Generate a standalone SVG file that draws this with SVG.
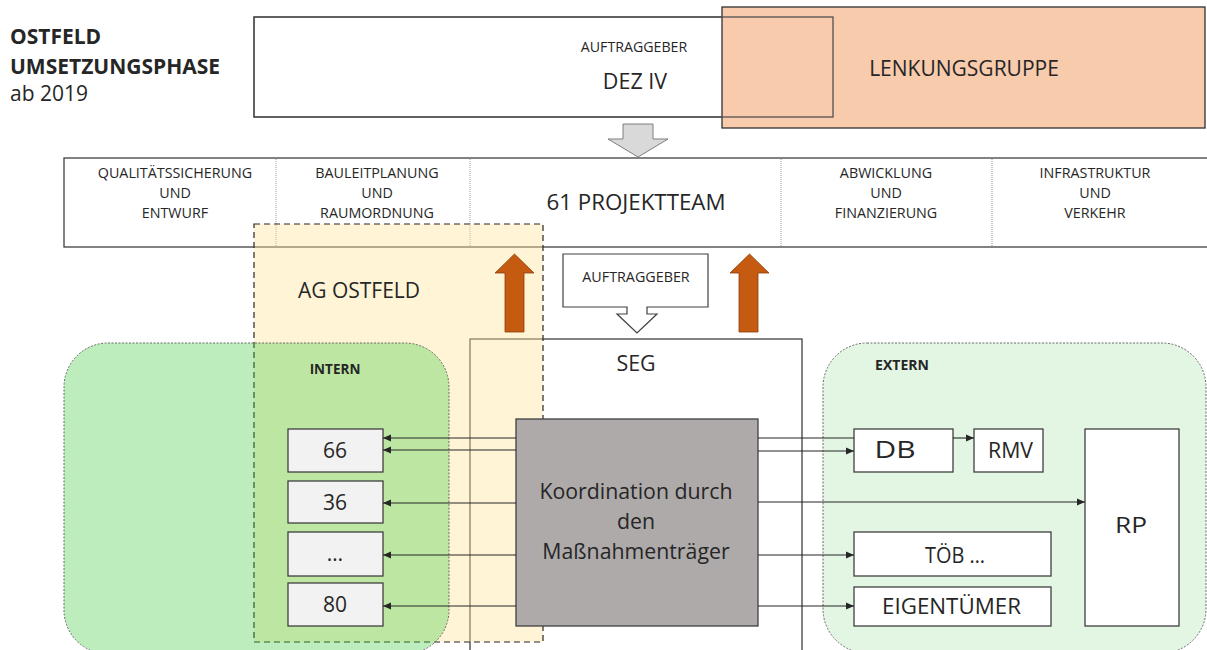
<svg xmlns="http://www.w3.org/2000/svg" width="1207" height="650" viewBox="0 0 1207 650">
<defs>
<style>
text{font-family:"Open Sans","Noto Sans","Liberation Sans",sans-serif;fill:#262626;}
.c{text-anchor:middle;}
.box{fill:#fff;stroke:#404040;stroke-width:1.3;}
.gbox{fill:#F2F2F2;stroke:#404040;stroke-width:1.3;}
.div{stroke:#9a9a9a;stroke-width:1;stroke-dasharray:1 1;}
.conn{stroke:#262626;stroke-width:1.1;fill:none;}
.up{fill:#C55A11;stroke:#8a3d0a;stroke-width:0.8;}
.hd{font-size:14.3px;}
</style>
<marker id="ah" viewBox="0 0 8 8" refX="8" refY="4" markerWidth="8" markerHeight="8" markerUnits="userSpaceOnUse" orient="auto">
<path d="M0,0.5 L8,4 L0,7.5 z" fill="#262626"/>
</marker>
</defs>

<g id="title">
<text x="10" y="44" font-size="21" font-weight="bold">OSTFELD</text>
<text x="10" y="74" font-size="21" font-weight="bold">UMSETZUNGSPHASE</text>
<text x="10" y="101" font-size="21">ab 2019</text>
</g>

<g id="dez">
<rect x="254" y="17" width="579" height="100" class="box"/>
</g>
<g id="lenkungsgruppe">
<rect x="722" y="7" width="483" height="121" fill="#F8CBAD" stroke="#303030" stroke-width="1.3"/>
<text x="964" y="76" class="c" font-size="21">LENKUNGSGRUPPE</text>
</g>
<g id="dez-label">
<rect x="254" y="17" width="579" height="100" fill="none" stroke="#505050" stroke-width="1.3"/>
<text x="634" y="52" class="c" font-size="14.2">AUFTRAGGEBER</text>
<text x="635" y="89" class="c" font-size="21.5">DEZ IV</text>
</g>

<g id="gray-arrow">
<path d="M623,124 H653 V139 H668 L638,157 L608,139 H623 Z" fill="#D9D9D9" stroke="#7f7f7f" stroke-width="1"/>
</g>

<g id="projektteam">
<rect x="64" y="158" width="1150" height="89" class="box"/>
<line x1="276" y1="159" x2="276" y2="246" class="div"/>
<line x1="470" y1="159" x2="470" y2="246" class="div"/>
<line x1="781" y1="159" x2="781" y2="246" class="div"/>
<line x1="992" y1="159" x2="992" y2="246" class="div"/>
<text class="c hd"><tspan x="175" y="178">QUALITÄTSSICHERUNG</tspan><tspan x="175" y="198">UND</tspan><tspan x="175" y="218">ENTWURF</tspan></text>
<text class="c hd"><tspan x="377" y="178">BAULEITPLANUNG</tspan><tspan x="377" y="198">UND</tspan><tspan x="377" y="218">RAUMORDNUNG</tspan></text>
<text x="636" y="210" class="c" font-size="22.3">61 PROJEKTTEAM</text>
<text class="c hd"><tspan x="886" y="178">ABWICKLUNG</tspan><tspan x="886" y="198">UND</tspan><tspan x="886" y="218">FINANZIERUNG</tspan></text>
<text class="c hd"><tspan x="1095" y="178">INFRASTRUKTUR</tspan><tspan x="1095" y="198">UND</tspan><tspan x="1095" y="218">VERKEHR</tspan></text>
</g>

<g id="seg">
<rect x="470" y="339" width="332" height="330" class="box"/>
<text x="636" y="371" class="c" font-size="21.4">SEG</text>
</g>

<g id="ag-ostfeld">
<rect x="254" y="224" width="289" height="418" fill="#FFE699" fill-opacity="0.4" stroke="#262626" stroke-width="1.2" stroke-dasharray="6 4"/>
<text x="359" y="298" class="c" font-size="21">AG OSTFELD</text>
</g>

<g id="intern">
<rect x="64" y="343" width="385" height="311" rx="44" ry="44" fill="#3FC93F" fill-opacity="0.34" stroke="#6a6a6a" stroke-width="1" stroke-dasharray="2 1.5"/>
<text x="335" y="374" class="c" font-size="13.5" font-weight="bold">INTERN</text>
</g>

<g id="extern">
<rect x="823" y="343" width="383" height="310" rx="44" ry="44" fill="#E3F5E3" stroke="#6a6a6a" stroke-width="1" stroke-dasharray="2 1.5"/>
<text x="902" y="370" class="c" font-size="14" font-weight="bold">EXTERN</text>
</g>

<g id="up-arrows">
<path d="M505,332 V273 H495 L514.5,254 L534,273 H524 V332 Z" class="up"/>
<path d="M739,332 V273 H730 L749.5,254 L769,273 H758 V332 Z" class="up"/>
</g>

<g id="auftraggeber-callout">
<path d="M563,254 H708 V307 H647 V314 H657 L637,333 L617,314 H627 V307 H563 Z" fill="#fff" stroke="#404040" stroke-width="1.2"/>
<text x="636" y="282" class="c" font-size="14.3">AUFTRAGGEBER</text>
</g>

<g id="n66"><rect x="288" y="429" width="95" height="43" class="gbox"/><text x="335" y="458" class="c" font-size="21">66</text></g>
<g id="n36"><rect x="288" y="481" width="95" height="42" class="gbox"/><text x="335" y="510" class="c" font-size="21">36</text></g>
<g id="ndots"><rect x="288" y="532" width="95" height="44" class="gbox"/><text x="335" y="561" class="c" font-size="21">…</text></g>
<g id="n80"><rect x="288" y="583" width="95" height="43" class="gbox"/><text x="335" y="612" class="c" font-size="21">80</text></g>

<g id="koordination">
<rect x="516" y="419" width="242" height="207" fill="#AEAAAA" stroke="#404040" stroke-width="1.3"/>
<text class="c" font-size="21.3"><tspan x="636" y="499">Koordination durch</tspan><tspan x="636" y="529">den</tspan><tspan x="636" y="559">Maßnahmenträger</tspan></text>
</g>

<g id="db"><rect x="854" y="429" width="99" height="43" class="box"/><text x="895" y="458" class="c" font-size="23" textLength="41" lengthAdjust="spacingAndGlyphs">DB</text></g>
<g id="rmv"><rect x="974" y="429" width="69" height="43" class="box"/><text x="1010.5" y="458" class="c" font-size="21.5" textLength="45" lengthAdjust="spacingAndGlyphs">RMV</text></g>
<g id="rp"><rect x="1085" y="429" width="94" height="197" class="box"/><text x="1131" y="533" class="c" font-size="22" textLength="32" lengthAdjust="spacingAndGlyphs">RP</text></g>
<g id="toeb"><rect x="854" y="532" width="197" height="44" class="box"/><text x="955" y="563" class="c" font-size="21" textLength="60" lengthAdjust="spacingAndGlyphs">TÖB …</text></g>
<g id="eigentuemer"><rect x="854" y="587" width="197" height="39" class="box"/><text x="951.5" y="614" class="c" font-size="21" textLength="139" lengthAdjust="spacingAndGlyphs">EIGENTÜMER</text></g>

<g id="connectors">
<line x1="516" y1="438" x2="383" y2="438" class="conn" marker-end="url(#ah)"/>
<line x1="516" y1="450" x2="383" y2="450" class="conn" marker-end="url(#ah)"/>
<line x1="516" y1="503" x2="383" y2="503" class="conn" marker-end="url(#ah)"/>
<line x1="516" y1="555" x2="383" y2="555" class="conn" marker-end="url(#ah)"/>
<line x1="516" y1="606" x2="383" y2="606" class="conn" marker-end="url(#ah)"/>
<line x1="758" y1="438" x2="854" y2="438" class="conn"/>
<line x1="758" y1="451" x2="854" y2="451" class="conn" marker-end="url(#ah)"/>
<line x1="953" y1="438" x2="974" y2="438" class="conn" marker-end="url(#ah)"/>
<line x1="758" y1="502" x2="1085" y2="502" class="conn" marker-end="url(#ah)"/>
<line x1="758" y1="555" x2="854" y2="555" class="conn" marker-end="url(#ah)"/>
<line x1="758" y1="606" x2="854" y2="606" class="conn" marker-end="url(#ah)"/>
</g>
</svg>
